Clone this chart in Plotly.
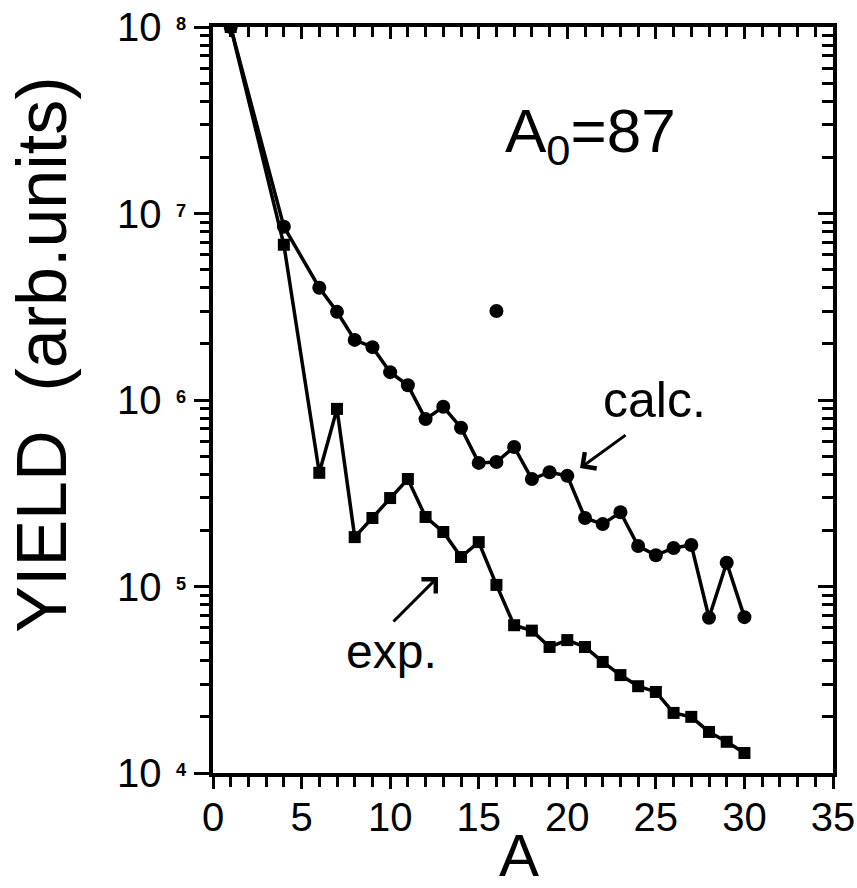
import plotly.graph_objects as go

# Mass number A of the fragments
A_vals = [1, 4] + list(range(6, 31))

# Calculated yields (filled circles)
calc_yield = [1.0e8, 8.5e6,
              4.0e6, 2.97e6, 2.1e6, 1.92e6, 1.41e6, 1.2e6, 7.9e5, 9.2e5, 7.1e5,
              4.6e5, 4.65e5, 5.6e5, 3.77e5, 4.1e5, 3.92e5, 2.33e5, 2.16e5, 2.5e5,
              1.65e5, 1.47e5, 1.61e5, 1.67e5, 6.8e4, 1.34e5, 6.85e4]

# Experimental yields (filled squares)
exp_yield = [1.0e8, 6.8e6,
             4.07e5, 8.96e5, 1.84e5, 2.33e5, 2.98e5, 3.77e5, 2.36e5, 1.96e5, 1.44e5,
             1.73e5, 1.02e5, 6.2e4, 5.8e4, 4.74e4, 5.16e4, 4.74e4, 3.94e4, 3.35e4,
             2.92e4, 2.72e4, 2.1e4, 2.0e4, 1.66e4, 1.47e4, 1.28e4]

# Lone dot inside the frame
dot_A = [16]
dot_yield = [3.0e6]

# Axis ticks
x_major = [0, 5, 10, 15, 20, 25, 30, 35]
y_major = [1e4, 1e5, 1e6, 1e7, 1e8]
y_exponents = ["4", "5", "6", "7", "8"]
y_minor = [m * 10 ** e for e in range(4, 8) for m in range(2, 10)]

FONT = "Liberation Sans"
INK = "black"

fig = go.Figure()

fig.add_trace(go.Scatter(
    x=A_vals, y=calc_yield, mode="lines+markers",
    line=dict(color=INK, width=3.5),
    marker=dict(symbol="circle", size=14, color=INK),
    showlegend=False, hoverinfo="skip"))

fig.add_trace(go.Scatter(
    x=A_vals, y=exp_yield, mode="lines+markers",
    line=dict(color=INK, width=3.5),
    marker=dict(symbol="square", size=12, color=INK),
    showlegend=False, hoverinfo="skip"))

fig.add_trace(go.Scatter(
    x=dot_A, y=dot_yield, mode="markers",
    marker=dict(symbol="circle", size=14, color=INK),
    showlegend=False, hoverinfo="skip"))

# Empty trace that carries the mirrored top/right axes
fig.add_trace(go.Scatter(x=[None], y=[None], xaxis="x2", yaxis="y2",
                         showlegend=False, hoverinfo="skip"))

y_ticktext = [f"10<span style='font-size:26px'>\u00a0\u00a0<sup><b>{e}</b></sup></span>"
              for e in y_exponents]

common_x = dict(range=[0, 35], showgrid=False, zeroline=False, automargin=False,
                showline=True, linewidth=4, linecolor=INK)
common_y = dict(type="log", range=[4, 8], showgrid=False, zeroline=False,
                automargin=False, showline=True, linewidth=4, linecolor=INK)

fig.update_layout(
    width=857, height=888,
    margin=dict(l=213, r=24, t=27, b=115),
    paper_bgcolor="white", plot_bgcolor="white",
    font=dict(family=FONT, color=INK),
    xaxis=dict(**common_x,
               tickmode="array", tickvals=x_major,
               ticks="outside", ticklen=12, tickwidth=3, tickcolor=INK,
               ticklabelstandoff=-6,
               tickfont=dict(size=40, family=FONT, color=INK),
               minor=dict(dtick=1, tick0=0, ticks="outside", ticklen=10,
                          tickwidth=3, tickcolor=INK)),
    yaxis=dict(**common_y,
               tickmode="array", tickvals=y_major, ticktext=y_ticktext,
               ticks="outside", ticklen=15, tickwidth=3, tickcolor=INK,
               tickfont=dict(size=40, family=FONT, color=INK),
               minor=dict(tickmode="array", tickvals=y_minor, ticks="outside",
                          ticklen=9, tickwidth=3, tickcolor=INK)),
    xaxis2=dict(**common_x, overlaying="x", side="top", anchor="y2",
                tickmode="array", tickvals=x_major, showticklabels=False,
                ticks="inside", ticklen=12, tickwidth=3, tickcolor=INK,
                minor=dict(dtick=1, tick0=0, ticks="inside", ticklen=10,
                           tickwidth=3, tickcolor=INK)),
    yaxis2=dict(**common_y, overlaying="y", side="right", anchor="x2",
                tickmode="array", tickvals=y_major, showticklabels=False,
                ticks="inside", ticklen=15, tickwidth=3, tickcolor=INK,
                minor=dict(tickmode="array", tickvals=y_minor, ticks="inside",
                           ticklen=11, tickwidth=3, tickcolor=INK)),
)

annotations = [
    # axis titles
    dict(text="YIELD\u00a0\u00a0(arb.units)", xref="paper", yref="paper",
         x=-0.275, y=0.56, textangle=-90, showarrow=False,
         font=dict(size=70, family=FONT, color=INK),
         xanchor="center", yanchor="middle"),
    dict(text="A", xref="paper", yref="paper", x=0.494, y=-0.11,
         showarrow=False, font=dict(size=60, family=FONT, color=INK),
         xanchor="center", yanchor="middle"),
    # panel label
    dict(text="A<sub>0</sub>=87", xref="x", yref="y", x=21.3, y=7.42,
         showarrow=False, font=dict(size=62, family=FONT, color=INK),
         xanchor="center", yanchor="middle"),
    # series labels
    dict(text="calc.", xref="x", yref="y", x=24.9, y=6.0,
         showarrow=False, font=dict(size=50, family=FONT, color=INK),
         xanchor="center", yanchor="middle"),
    dict(text="exp.", xref="x", yref="y", x=10.1, y=4.65,
         showarrow=False, font=dict(size=48, family=FONT, color=INK),
         xanchor="center", yanchor="middle"),
    # arrows pointing at each curve
    dict(text="", xref="x", yref="y", x=20.72, y=5.635, ax=47, ay=-34,
         axref="pixel", ayref="pixel", showarrow=True, arrowhead=4,
         arrowsize=1.3, arrowwidth=3, arrowcolor=INK, standoff=0),
    dict(text="", xref="x", yref="y", x=12.70, y=5.051, ax=-46, ay=46,
         axref="pixel", ayref="pixel", showarrow=True, arrowhead=4,
         arrowsize=1.3, arrowwidth=3, arrowcolor=INK, standoff=0),
]
fig.update_layout(annotations=annotations)

fig.write_html("out.html")
